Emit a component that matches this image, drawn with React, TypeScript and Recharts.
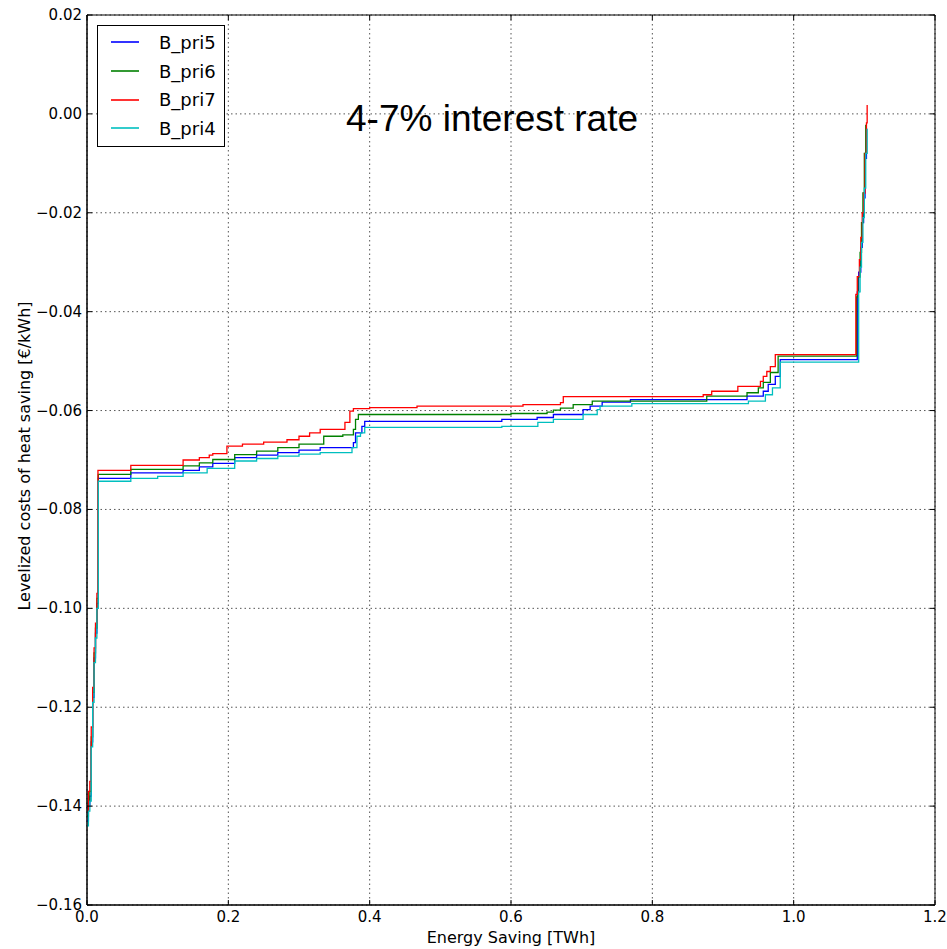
import { LineChart, Line, XAxis, YAxis, CartesianGrid, ReferenceArea, Legend } from 'recharts';

// step data: x = energy saving [TWh], y = levelized cost [€/kWh]
const pri5X = [0, 0.002, 0.004, 0.006, 0.008, 0.010, 0.012, 0.014, 0.016, 0.062, 0.136, 0.159, 0.178, 0.209, 0.24, 0.27, 0.30, 0.33, 0.377, 0.380, 0.389, 0.393, 0.587, 0.637, 0.66, 0.702, 0.712, 0.729, 0.769, 0.934, 0.957, 0.964, 0.974, 0.981, 1.090, 1.092, 1.095, 1.097, 1.099, 1.101, 1.103];
const pri5Y = [-0.143, -0.140, -0.138, -0.127, -0.118, -0.110, -0.105, -0.099, -0.0737, -0.0726, -0.0721, -0.0714, -0.0707, -0.0695, -0.0690, -0.0685, -0.0680, -0.0675, -0.0665, -0.0645, -0.0632, -0.0622, -0.0618, -0.0614, -0.0608, -0.0598, -0.0591, -0.0583, -0.0578, -0.0571, -0.0561, -0.0547, -0.0531, -0.0497, -0.036, -0.032, -0.027, -0.022, -0.017, -0.009, -0.0028];

const pri6X = [0, 0.002, 0.004, 0.006, 0.008, 0.010, 0.012, 0.014, 0.016, 0.062, 0.136, 0.159, 0.178, 0.209, 0.24, 0.27, 0.30, 0.335, 0.362, 0.377, 0.380, 0.384, 0.60, 0.651, 0.66, 0.67, 0.688, 0.715, 0.877, 0.934, 0.95, 0.957, 0.967, 0.978, 1.089, 1.091, 1.094, 1.096, 1.098, 1.100, 1.102];
const pri6Y = [-0.142, -0.139, -0.137, -0.126, -0.117, -0.109, -0.104, -0.098, -0.0729, -0.0719, -0.0712, -0.0706, -0.0699, -0.0689, -0.0682, -0.0675, -0.0668, -0.0652, -0.0649, -0.0638, -0.0618, -0.0608, -0.0606, -0.0603, -0.0599, -0.0595, -0.0588, -0.0581, -0.0571, -0.0564, -0.0554, -0.0543, -0.0523, -0.0490, -0.037, -0.033, -0.028, -0.022, -0.016, -0.008, -0.0022];

const pri7X = [0, 0.002, 0.004, 0.006, 0.008, 0.010, 0.012, 0.014, 0.0155, 0.062, 0.136, 0.159, 0.173, 0.178, 0.198, 0.22, 0.25, 0.283, 0.30, 0.315, 0.33, 0.365, 0.372, 0.377, 0.40, 0.467, 0.617, 0.67, 0.674, 0.872, 0.884, 0.921, 0.953, 0.957, 0.962, 0.967, 0.974, 1.088, 1.090, 1.093, 1.095, 1.097, 1.099, 1.101, 1.103, 1.104];
const pri7Y = [-0.141, -0.137, -0.135, -0.124, -0.116, -0.108, -0.103, -0.097, -0.0721, -0.0711, -0.0700, -0.0695, -0.0690, -0.0687, -0.0672, -0.0668, -0.0664, -0.0659, -0.0652, -0.0645, -0.0638, -0.0624, -0.0601, -0.0596, -0.0594, -0.0591, -0.0588, -0.0584, -0.0572, -0.0568, -0.0561, -0.0551, -0.0541, -0.0531, -0.0521, -0.0511, -0.0487, -0.0365, -0.0329, -0.0295, -0.0250, -0.0200, -0.0160, -0.0080, -0.0018, 0.0018];

const pri4X = [0, 0.002, 0.004, 0.006, 0.008, 0.010, 0.012, 0.014, 0.016, 0.062, 0.100, 0.136, 0.170, 0.209, 0.24, 0.27, 0.30, 0.33, 0.375, 0.382, 0.387, 0.393, 0.587, 0.638, 0.66, 0.702, 0.722, 0.726, 0.771, 0.936, 0.96, 0.97, 0.981, 1.092, 1.094, 1.096, 1.098, 1.100, 1.102, 1.104];
const pri4Y = [-0.144, -0.141, -0.139, -0.128, -0.119, -0.111, -0.106, -0.100, -0.0743, -0.0737, -0.0733, -0.0726, -0.0717, -0.0702, -0.0697, -0.0692, -0.0688, -0.0685, -0.0675, -0.0652, -0.0645, -0.0634, -0.0632, -0.0624, -0.0618, -0.0608, -0.0598, -0.0591, -0.0586, -0.0581, -0.0568, -0.0554, -0.0502, -0.036, -0.031, -0.026, -0.021, -0.015, -0.008, -0.003];

const xTicks = [0, 0.2, 0.4, 0.6, 0.8, 1.0, 1.2];
const yTicks = [0.02, 0, -0.02, -0.04, -0.06, -0.08, -0.10, -0.12, -0.14, -0.16];

const SERIES = [
  { name: 'B_pri5', color: '#0000ff', xs: pri5X, ys: pri5Y },
  { name: 'B_pri6', color: '#008000', xs: pri6X, ys: pri6Y },
  { name: 'B_pri7', color: '#ff0000', xs: pri7X, ys: pri7Y },
  { name: 'B_pri4', color: '#00bfbf', xs: pri4X, ys: pri4Y },
];

const W = 947;
const H = 949;
const PLOT_W = 848;
const PLOT_H = 890;
const FONT = '"DejaVu Sans", sans-serif';

const fmtY = (v: number) => (Math.abs(v) < 1e-9 ? '0.00' : (v < 0 ? '\u2212' : '') + Math.abs(v).toFixed(2));

const YTick = ({ x, y, payload }: any) => {
  const px = x + 5;
  return (
    <g>
      <line x1={px} x2={px + 5} y1={y} y2={y} stroke="#000" />
      <line x1={px + PLOT_W - 5} x2={px + PLOT_W} y1={y} y2={y} stroke="#000" />
      <text x={x} y={y} dy={5} textAnchor="end" fontSize={15} fontFamily={FONT} fill="#000">{fmtY(payload.value)}</text>
    </g>
  );
};

const XTick = ({ x, y, payload }: any) => {
  const py = y - 3;
  return (
    <g>
      <line x1={x} x2={x} y1={py} y2={py - 5} stroke="#000" />
      <line x1={x} x2={x} y1={py - PLOT_H} y2={py - PLOT_H + 5} stroke="#000" />
      <text x={x} y={y} dy={14} textAnchor="middle" fontSize={15} fontFamily={FONT} fill="#000">{payload.value.toFixed(1)}</text>
    </g>
  );
};

const renderLegend = () => (
  <div style={{ width: 128, height: 122, border: '1px solid #000', background: '#fff', fontFamily: FONT, fontSize: 18, boxSizing: 'border-box', paddingTop: 2 }}>
    {SERIES.map(s => (
      <div key={s.name} style={{ display: 'flex', alignItems: 'center', height: 28.7 }}>
        <span style={{ display: 'inline-block', marginLeft: 13, width: 28, height: 2, background: s.color, opacity: 0.8 }} />
        <span style={{ marginLeft: 20 }}>{s.name}</span>
      </div>
    ))}
  </div>
);

export default function App() {
  return (
    <div style={{ position: 'absolute', left: 0, top: 0, width: W, height: H, background: '#fff' }}>
      <LineChart width={W} height={H} margin={{ top: 15, right: 12, bottom: 0, left: 0 }}>
        <CartesianGrid stroke="#555" strokeDasharray="1.5 3" />
        <XAxis
          dataKey="x"
          type="number"
          domain={[0, 1.2]}
          ticks={xTicks}
          height={44}
          tickSize={0}
          tickMargin={3}
          axisLine={{ stroke: '#000' }}
          tick={<XTick />}
          allowDataOverflow
          label={{
            content: ({ viewBox }: any) => (
              <text x={viewBox.x + viewBox.width / 2} y={943} textAnchor="middle" fontSize={16} fontFamily={FONT} fill="#000">Energy Saving [TWh]</text>
            ),
          }}
        />
        <YAxis
          type="number"
          domain={[-0.16, 0.02]}
          ticks={yTicks}
          width={87}
          tickSize={0}
          tickMargin={5}
          axisLine={{ stroke: '#000' }}
          tick={<YTick />}
          allowDataOverflow
          label={{
            content: ({ viewBox }: any) => {
              const cy = viewBox.y + viewBox.height / 2 - 4;
              return (
                <text x={30} y={cy} transform={`rotate(-90 30 ${cy})`} textAnchor="middle" fontSize={16} fontFamily={FONT} fill="#000">Levelized costs of heat saving [€/kWh]</text>
              );
            },
          }}
        />
        <ReferenceArea x1={0} x2={1.2} y1={-0.16} y2={0.02} fill="none" stroke="#000" strokeWidth={1} ifOverflow="visible" />
        {SERIES.map(s => (
          <Line
            key={s.name}
            name={s.name}
            data={s.xs.map((x, i) => ({ x, y: s.ys[i] }))}
            dataKey="y"
            type="stepAfter"
            stroke={s.color}
            strokeWidth={1.3}
            dot={false}
            activeDot={false}
            isAnimationActive={false}
          />
        ))}
        <Legend content={renderLegend} layout="horizontal" verticalAlign="middle" align="center" wrapperStyle={{ left: 97, top: 25, width: 128 }} />
      </LineChart>
      <svg width={W} height={H} style={{ position: 'absolute', left: 0, top: 0, pointerEvents: 'none' }}>
        <text x={346} y={131} fontSize={37} fontFamily='"Liberation Sans", Arial, sans-serif' fill="#000">4-7% interest rate</text>
      </svg>
    </div>
  );
}
